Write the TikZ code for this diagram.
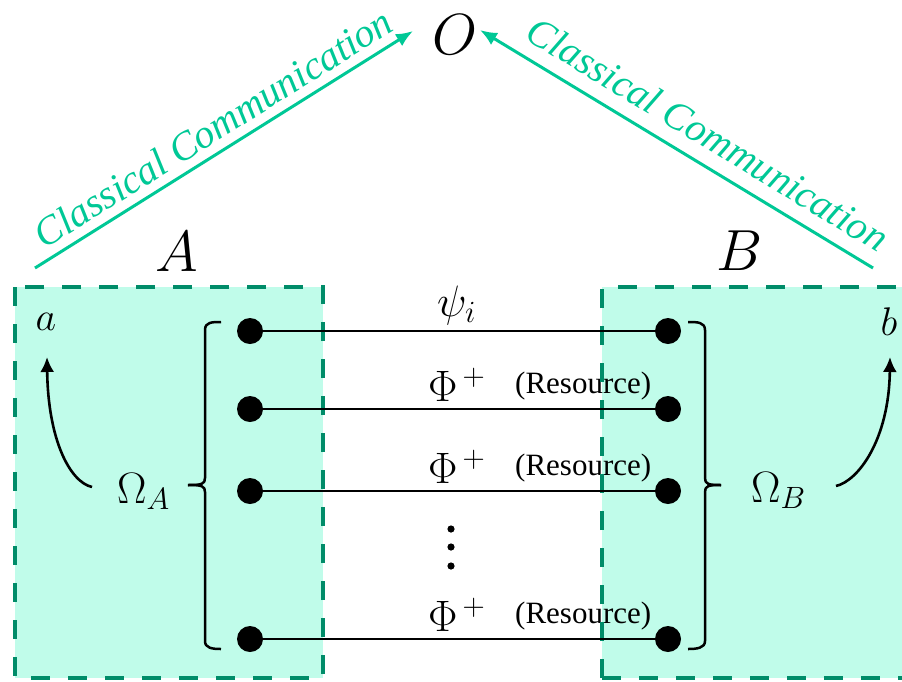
\RequirePackage{fix-cm}
\documentclass[tikz,border=0pt]{standalone}
\usepackage{fontspec}
\setmainfont{Liberation Serif}[ItalicFont={Liberation Serif Italic}]
\newfontfamily\timesfam{Liberation Serif}[ItalicFont={Liberation Serif Italic}]
\usetikzlibrary{arrows.meta}
\definecolor{boxfill}{RGB}{192,252,234}
\definecolor{boxedge}{RGB}{0,140,105}
\definecolor{ccgreen}{RGB}{0,200,150}
\tikzset{
  boxborder/.style={draw=boxedge, line width=4.5pt, dash pattern=on 19pt off 18pt},
  dotnode/.style={circle, fill=black, minimum size=26pt, inner sep=0pt},
  wire/.style={line width=2.8pt},
  brack/.style={line width=2.5pt, line join=round},
  ccarrow/.style={draw=ccgreen, line width=3pt, -{Latex[length=17pt,width=14pt]}, fill=ccgreen},
  blkarrow/.style={line width=2.6pt, -{Latex[length=15pt,width=14pt]}},
  cctext/.style={text=ccgreen, font=\timesfam\fontsize{40}{48}\selectfont\itshape, inner sep=0pt},
  bigmath/.style={font=\fontsize{58}{64}\selectfont, inner sep=0pt},
  midmath/.style={font=\fontsize{44}{50}\selectfont, inner sep=0pt, anchor=base west},
  restext/.style={font=\timesfam\fontsize{31}{36}\selectfont, inner sep=0pt, anchor=base west},
  smallmath/.style={font=\fontsize{40}{46}\selectfont, inner sep=0pt}
}
\begin{document}
\begin{tikzpicture}[x=1pt,y=-1pt]
\useasboundingbox (0,0) rectangle (902,681);
% box fills
\fill[boxfill] (15,287) rectangle (323,678);
\fill[boxfill] (602,287) rectangle (930,678);
% labels on wires
\node[midmath] (psi) at (437,316) {$\psi_i$};
\node[midmath] (ph2) at (428,401) {$\Phi^{\,+}$};
\node[restext] (rs2) at (515,393) {(Resource)};
\node[midmath] (ph3) at (428,483) {$\Phi^{\,+}$};
\node[restext] (rs3) at (515,475) {(Resource)};
\node[midmath] (ph4) at (428,631) {$\Phi^{\,+}$};
\node[restext] (rs4) at (515,623) {(Resource)};
% box borders
\draw[boxborder] (15,287) rectangle (323,678);
\draw[boxborder] (602,678) -- (602,287) -- (930,287);
\draw[boxborder] (602,678) -- (930,678);
% dots and wires
\node[dotnode] (L1) at (250,331) {};
\node[dotnode] (L2) at (250,409) {};
\node[dotnode] (L3) at (250,491) {};
\node[dotnode] (L4) at (250,639) {};
\node[dotnode] (R1) at (668,331) {};
\node[dotnode] (R2) at (668,409) {};
\node[dotnode] (R3) at (668,491) {};
\node[dotnode] (R4) at (668,639) {};
\foreach \i in {1,2,3,4} \draw[wire] (L\i.center) -- (R\i.center);
% vertical dots
\fill (451,529) circle (3.6pt);
\fill (451,547) circle (3.6pt);
\fill (451,566) circle (3.6pt);
% brackets (brace-like)
\coordinate (lbt) at (221,322); \coordinate (lbb) at (221,649); \coordinate (lbm) at (188,485);
\coordinate (rbt) at (688,322); \coordinate (rbb) at (688,649); \coordinate (rbm) at (721,485);
\draw[brack] (lbt) .. controls (212,322) and (205,322) .. (205,330) -- (205,478)
  .. controls (205,484) and (202,485) .. (lbm);
\draw[brack] (lbm) .. controls (202,485) and (205,486) .. (205,492) -- (205,641)
  .. controls (205,648) and (212,649) .. (lbb);
\draw[brack] (rbt) .. controls (697,322) and (705,322) .. (705,330) -- (705,478)
  .. controls (705,484) and (708,485) .. (rbm);
\draw[brack] (rbm) .. controls (708,485) and (705,486) .. (705,492) -- (705,641)
  .. controls (705,648) and (697,649) .. (rbb);
% Omega labels
\node[midmath] (omA) at (117,503) {$\Omega_A$};
\node[midmath] (omB) at (751,502) {$\Omega_B$};
% a, b
\node[smallmath] (a) at (46,322) {$a$};
\node[smallmath] (b) at (889,322) {$b$};
\coordinate (la0) at (92,487); \coordinate (la1) at (47,357);
\coordinate (rb0) at (836,486); \coordinate (rb1) at (890,357);
\draw[blkarrow] (la0) .. controls (70,482) and (48,440) .. (la1);
\draw[blkarrow] (rb0) .. controls (858,481) and (889,440) .. (rb1);
% A, B, O
\node[bigmath] (A) at (177,252) {$A$};
\node[bigmath] (B) at (740,251) {$B$};
\node[bigmath] (O) at (455,35) {$O$};
% classical communication
\coordinate (ga0) at (35,268); \coordinate (ga1) at (413,31);
\coordinate (gb0) at (873,268); \coordinate (gb1) at (480,30);
\draw[ccarrow] (ga0) -- (ga1);
\draw[ccarrow] (gb0) -- (gb1);
\node[cctext, rotate=32.1] (ccL) at (213,128) {Classical Communication};
\node[cctext, rotate=-31.2] (ccR) at (708,134) {Classical Communication};
\end{tikzpicture}
\end{document}
